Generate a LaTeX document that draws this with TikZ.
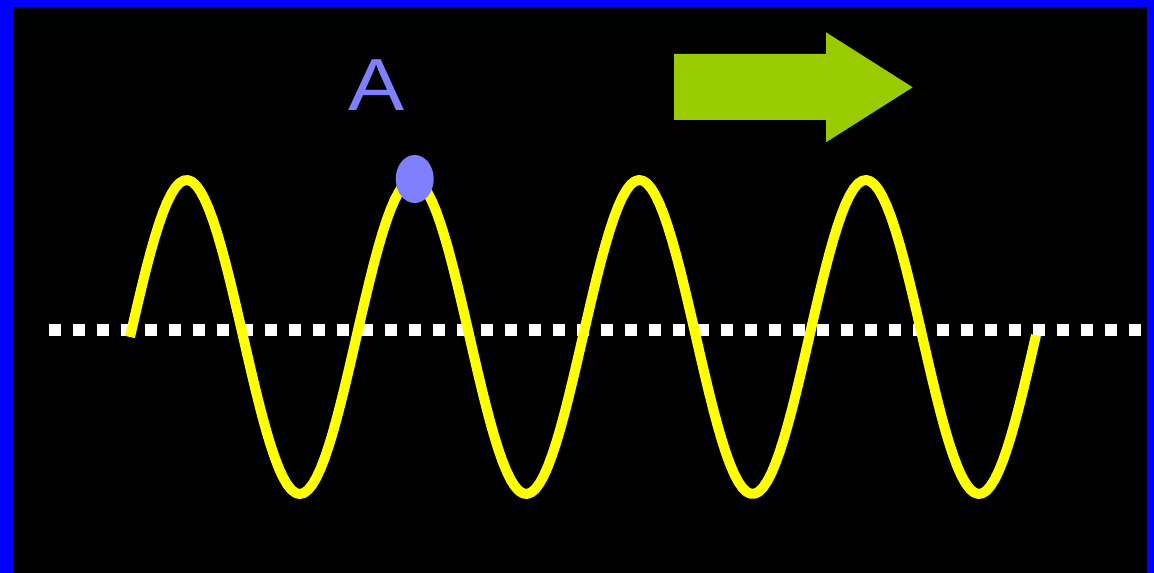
\documentclass[tikz,border=0pt]{standalone}
\usepackage{fontspec}
\setmainfont{Liberation Sans}
\usepackage{xcolor}
\usepackage{tikz}
\usetikzlibrary{shapes.geometric}
\definecolor{framblue}{HTML}{0000FF}
\definecolor{wavyellow}{HTML}{FFFF00}
\definecolor{dotblue}{HTML}{8080FF}
\definecolor{movegreen}{HTML}{99CC00}

\begin{document}
\begin{tikzpicture}[x=0.02cm, y=-0.02cm,
    wave/.style={wavyellow, line width=10*0.02cm, line join=round},
    crestdot/.style={ellipse, fill=dotblue, inner sep=0pt, minimum width=38*0.02cm, minimum height=48*0.02cm},
    crestlabel/.style={text=dotblue, inner sep=0pt, xscale=1.14, font=\fontsize{42}{50}\selectfont}]
  \useasboundingbox (0,0) rectangle (1154,573);
  \fill[black] (0,0) rectangle (1154,573);
  \fill[framblue] (0,0) rectangle (13,573);
  \fill[framblue] (0,0) rectangle (1154,7);
  \fill[framblue] (1147,0) rectangle (1154,573);
  % rest line
  \foreach \i in {0,1,...,45}{\fill[white] ({48.7+24*\i},324.3) rectangle ++(12,12);}
  % the wave
  \draw[wave] plot[domain=130:1036, samples=220] (\x, {337-157*sin((\x-130)/226.4*360)});
  \node[crestdot] (crest) at (414.7,179) {};
  \node[crestlabel] (labelA) at (377,85.5) {A};
  % direction of travel
  \fill[movegreen] (674,54) -- (826,54) -- (826,32.3) -- (912.7,87.3) -- (826,142.3) -- (826,120) -- (674,120) -- cycle;
\end{tikzpicture}
\end{document}
